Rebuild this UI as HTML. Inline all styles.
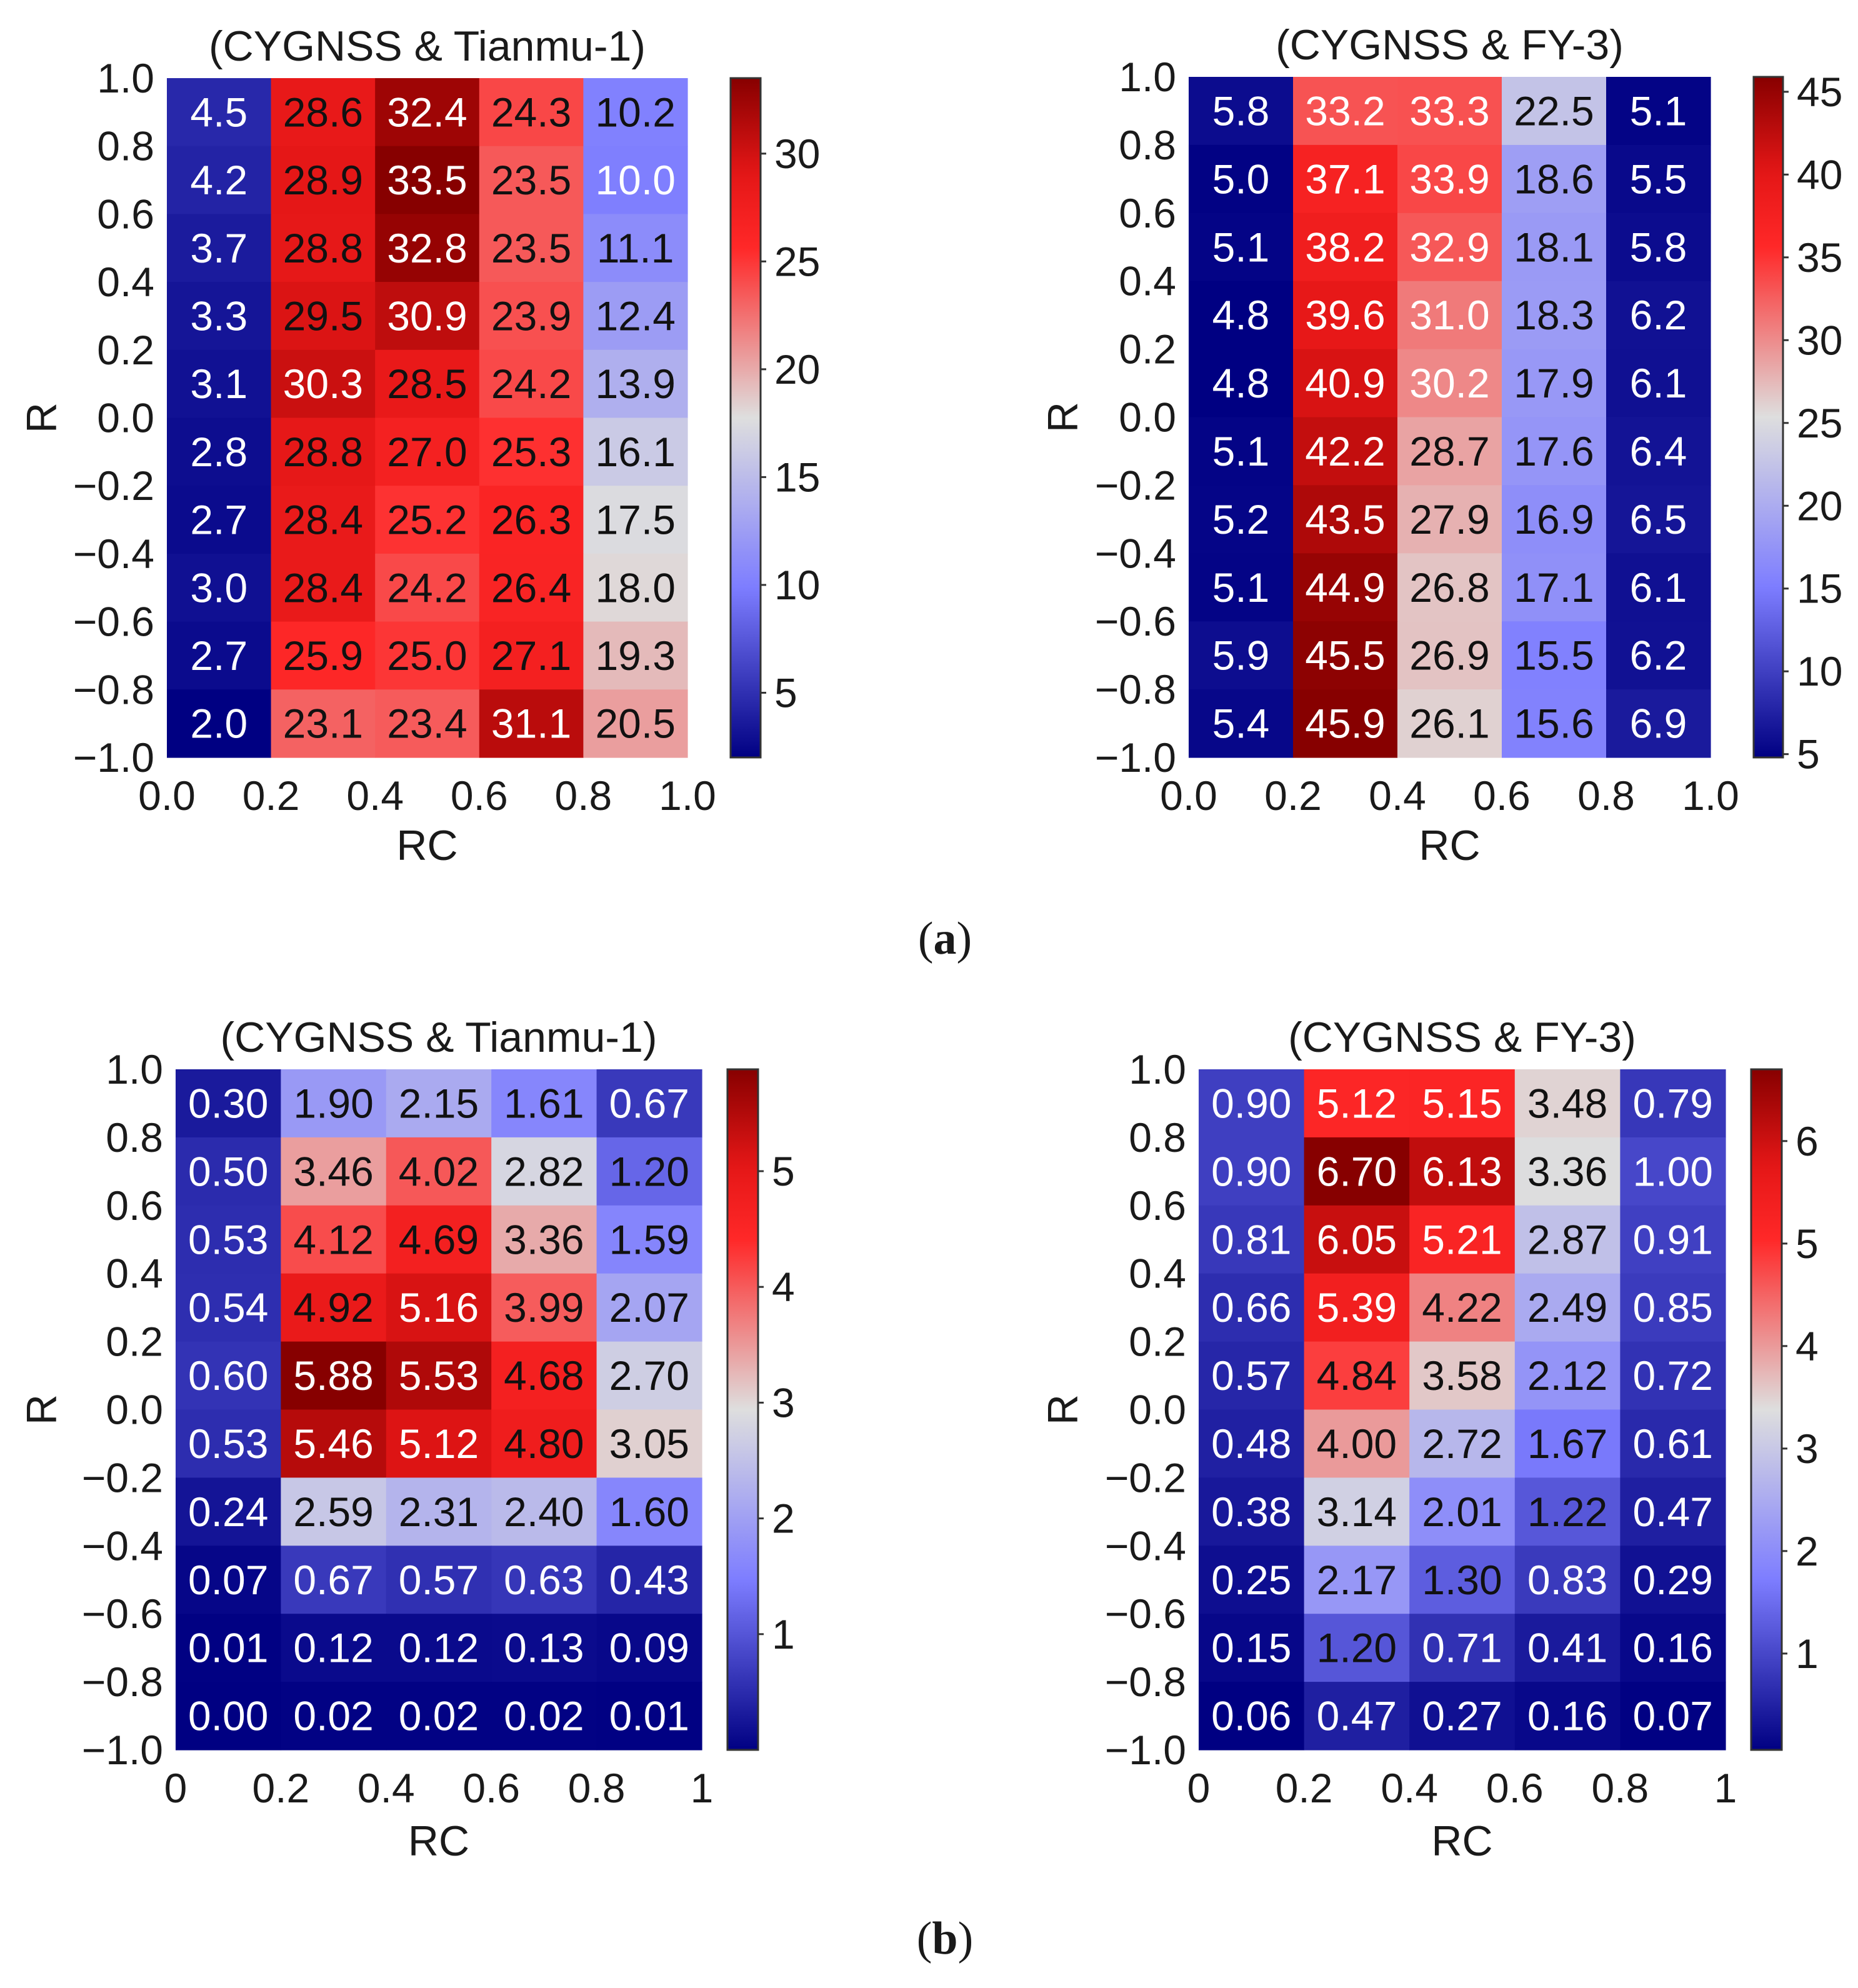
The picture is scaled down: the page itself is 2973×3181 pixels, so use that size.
<!DOCTYPE html>
<html>
<head>
<meta charset="utf-8">
<style>
html,body{margin:0;padding:0;background:#fff;}
svg{display:block;}
text{font-family:"Liberation Sans",sans-serif;fill:#1a1a1a;}
.cap{font-family:"Liberation Serif",serif;}
</style>
</head>
<body>
<svg id="fig" width="2973" height="3181" viewBox="0 0 2973 3181" xmlns="http://www.w3.org/2000/svg">
<defs id="defs"></defs>
<text class="cap" x="1512" y="1526" font-size="74" text-anchor="middle">(<tspan font-weight="bold">a</tspan>)</text>
<text class="cap" x="1512" y="3126" font-size="74" text-anchor="middle">(<tspan font-weight="bold">b</tspan>)</text>
</svg>
<script>
// ---- data (rows top -> bottom = R 0.9 ... -0.9, cols = RC 0.1 ... 0.9) ----
const a1Values = [
 [4.5,28.6,32.4,24.3,10.2],
 [4.2,28.9,33.5,23.5,10.0],
 [3.7,28.8,32.8,23.5,11.1],
 [3.3,29.5,30.9,23.9,12.4],
 [3.1,30.3,28.5,24.2,13.9],
 [2.8,28.8,27.0,25.3,16.1],
 [2.7,28.4,25.2,26.3,17.5],
 [3.0,28.4,24.2,26.4,18.0],
 [2.7,25.9,25.0,27.1,19.3],
 [2.0,23.1,23.4,31.1,20.5]
];
const a2Values = [
 [5.8,33.2,33.3,22.5,5.1],
 [5.0,37.1,33.9,18.6,5.5],
 [5.1,38.2,32.9,18.1,5.8],
 [4.8,39.6,31.0,18.3,6.2],
 [4.8,40.9,30.2,17.9,6.1],
 [5.1,42.2,28.7,17.6,6.4],
 [5.2,43.5,27.9,16.9,6.5],
 [5.1,44.9,26.8,17.1,6.1],
 [5.9,45.5,26.9,15.5,6.2],
 [5.4,45.9,26.1,15.6,6.9]
];
const b1Values = [
 [0.30,1.90,2.15,1.61,0.67],
 [0.50,3.46,4.02,2.82,1.20],
 [0.53,4.12,4.69,3.36,1.59],
 [0.54,4.92,5.16,3.99,2.07],
 [0.60,5.88,5.53,4.68,2.70],
 [0.53,5.46,5.12,4.80,3.05],
 [0.24,2.59,2.31,2.40,1.60],
 [0.07,0.67,0.57,0.63,0.43],
 [0.01,0.12,0.12,0.13,0.09],
 [0.00,0.02,0.02,0.02,0.01]
];
const b2Values = [
 [0.90,5.12,5.15,3.48,0.79],
 [0.90,6.70,6.13,3.36,1.00],
 [0.81,6.05,5.21,2.87,0.91],
 [0.66,5.39,4.22,2.49,0.85],
 [0.57,4.84,3.58,2.12,0.72],
 [0.48,4.00,2.72,1.67,0.61],
 [0.38,3.14,2.01,1.22,0.47],
 [0.25,2.17,1.30,0.83,0.29],
 [0.15,1.20,0.71,0.41,0.16],
 [0.06,0.47,0.27,0.16,0.07]
];
// annotation text colour per cell (w = white, k = black)
const a1TextColors = ["wkwkk","wkwkw","wkwkk","wkwkk","wwkkk","wkkkk","wkkkk","wkkkk","wkkkk","wkkwk"];
const a2TextColors = ["wwwkw","wwwkw","wwwkw","wwwkw","wwwkw","wwkkw","wwkkw","wwkkw","wwkkw","wwkkw"];
const b1TextColors = ["wkkkw","wkkkk","wkkkk","wkwkk","wwwkk","wwwkk","wkkkk","wwwww","wwwww","wwwww"];
const b2TextColors = ["wwwkw","wwwkw","wwwkw","wwkkw","wkkkw","wkkkw","wkkkw","wkkww","wkwww","wwwww"];
const yTickLabels = ["1.0","0.8","0.6","0.4","0.2","0.0","\u22120.2","\u22120.4","\u22120.6","\u22120.8","\u22121.0"];
const xTickLabelsA = ["0.0","0.2","0.4","0.6","0.8","1.0"];
const xTickLabelsB = ["0","0.2","0.4","0.6","0.8","1"];
const a1CbTicks = [5,10,15,20,25,30];
const a2CbTicks = [5,10,15,20,25,30,35,40,45];
const b1CbTicks = [1,2,3,4,5];
const b2CbTicks = [1,2,3,4,5,6];
const titles = ["(CYGNSS & Tianmu-1)","(CYGNSS & FY-3)","(CYGNSS & Tianmu-1)","(CYGNSS & FY-3)"];

// ---- colormap ----
const cmapStops = [[0,[0,0,130]],[0.25,[125,125,255]],[0.5,[222,222,222]],[0.75,[255,40,40]],[0.86,[228,22,22]],[1,[135,0,0]]];
function cmap(t){
  t=Math.max(0,Math.min(1,t));
  for(let i=1;i<cmapStops.length;i++){
    if(t<=cmapStops[i][0]){
      const [t0,c0]=cmapStops[i-1],[t1,c1]=cmapStops[i];
      const f=(t-t0)/(t1-t0);
      return 'rgb('+c0.map((v,k)=>Math.round(v+(c1[k]-v)*f)).join(',')+')';
    }
  }
  return 'rgb(135,0,0)';
}

const NS='http://www.w3.org/2000/svg';
const svg=document.getElementById('fig');
const defs=document.getElementById('defs');
function mk(tag,attrs,parent){const e=document.createElementNS(NS,tag);for(const k in attrs)e.setAttribute(k,attrs[k]);(parent||svg).appendChild(e);return e;}

const panels=[
 {key:'a1',vals:a1Values,tc:a1TextColors,dec:1,x0:267,x1:1100,y0:125,y1:1212,cb0:1169,cb1:1217,cbTicks:a1CbTicks,xt:xTickLabelsA,title:titles[0],rx:66,rcy:1352},
 {key:'a2',vals:a2Values,tc:a2TextColors,dec:1,x0:1902,x1:2737,y0:123,y1:1212,cb0:2806,cb1:2853,cbTicks:a2CbTicks,xt:xTickLabelsA,title:titles[1],rx:1700,rcy:1352},
 {key:'b1',vals:b1Values,tc:b1TextColors,dec:2,x0:281,x1:1123,y0:1711,y1:2800,cb0:1164,cb1:1213,cbTicks:b1CbTicks,xt:xTickLabelsB,title:titles[2],rx:66,rcy:2945},
 {key:'b2',vals:b2Values,tc:b2TextColors,dec:2,x0:1918,x1:2761,y0:1711,y1:2800,cb0:2802,cb1:2851,cbTicks:b2CbTicks,xt:xTickLabelsB,title:titles[3],rx:1700,rcy:2945}
];

const grad=mk('linearGradient',{id:'cmapGrad',x1:'0',y1:'1',x2:'0',y2:'0'},defs);
for(let i=0;i<=40;i++){mk('stop',{offset:(i/40),'stop-color':cmap(i/40)},grad);}

const FS=66;
panels.forEach(p=>{
  const g=mk('g',{});
  
  
  const flat=p.vals.flat();
  const vmin=Math.min(...flat), vmax=Math.max(...flat);
  const nR=p.vals.length, nC=p.vals[0].length;
  const cw=(p.x1-p.x0)/nC, ch=(p.y1-p.y0)/nR;
  const xScale=v=>p.x0+v*(p.x1-p.x0);
  const yScale=v=>p.y0+(1-v)/2*(p.y1-p.y0);
  const cScale=v=>p.y1-(v-vmin)/(vmax-vmin)*(p.y1-p.y0);
  p.vals.forEach((row,r)=>row.forEach((v,c)=>{
    const rc0=c/nC, rTop=1-2*r/nR;
    const rect=mk('rect',{x:xScale(rc0),y:yScale(rTop),width:cw+0.6,height:ch+0.6,fill:cmap((v-vmin)/(vmax-vmin))},g);
    
    
    const t=mk('text',{x:xScale(rc0)+cw/2,y:yScale(rTop)+ch/2+23,'font-size':FS,'text-anchor':'middle'},g);
    t.style.fill=p.tc[r][c]==='w'?'#ffffff':'#111111';
    t.textContent=v.toFixed(p.dec);
    
    
  }));
  yTickLabels.forEach((lab,i)=>{
    const t=mk('text',{x:p.x0-20,y:p.y0+i*(p.y1-p.y0)/10+23,'font-size':FS,'text-anchor':'end'},g);
    t.textContent=lab;
    
    
  });
  p.xt.forEach((lab,i)=>{
    const t=mk('text',{x:xScale(i/5),y:p.y1+84,'font-size':FS,'text-anchor':'middle'},g);
    t.textContent=lab;
    
    
  });
  const xl=mk('text',{x:(p.x0+p.x1)/2,y:p.rcy+24,'font-size':68,'text-anchor':'middle'},g);
  xl.textContent='RC';
  
  
  const cy=(p.y0+p.y1)/2;
  const yl=mk('text',{x:p.rx+24,y:cy,'font-size':68,'text-anchor':'middle',transform:'rotate(-90 '+(p.rx+24)+' '+cy+')'},g);
  yl.textContent='R';
  
  
  const ti=mk('text',{x:(p.x0+p.x1)/2,y:p.y0-28,'font-size':68,'text-anchor':'middle'},g);
  ti.textContent=p.title;
  
  
  const cb=mk('rect',{x:p.cb0,y:p.y0,width:p.cb1-p.cb0,height:p.y1-p.y0,fill:'url(#cmapGrad)',stroke:'#333',"stroke-width":3},g);
  
  
  p.cbTicks.forEach(v=>{
    const yy=cScale(v);
    const ln=mk('line',{x1:p.cb1,x2:p.cb1+9,y1:yy,y2:yy,stroke:'#333','stroke-width':3},g);
    
    
    const t=mk('text',{x:p.cb1+22,y:yy+23,'font-size':FS,'text-anchor':'start'},g);
    t.textContent=String(v);
    
    
  });
});
</script>
</body>
</html>
